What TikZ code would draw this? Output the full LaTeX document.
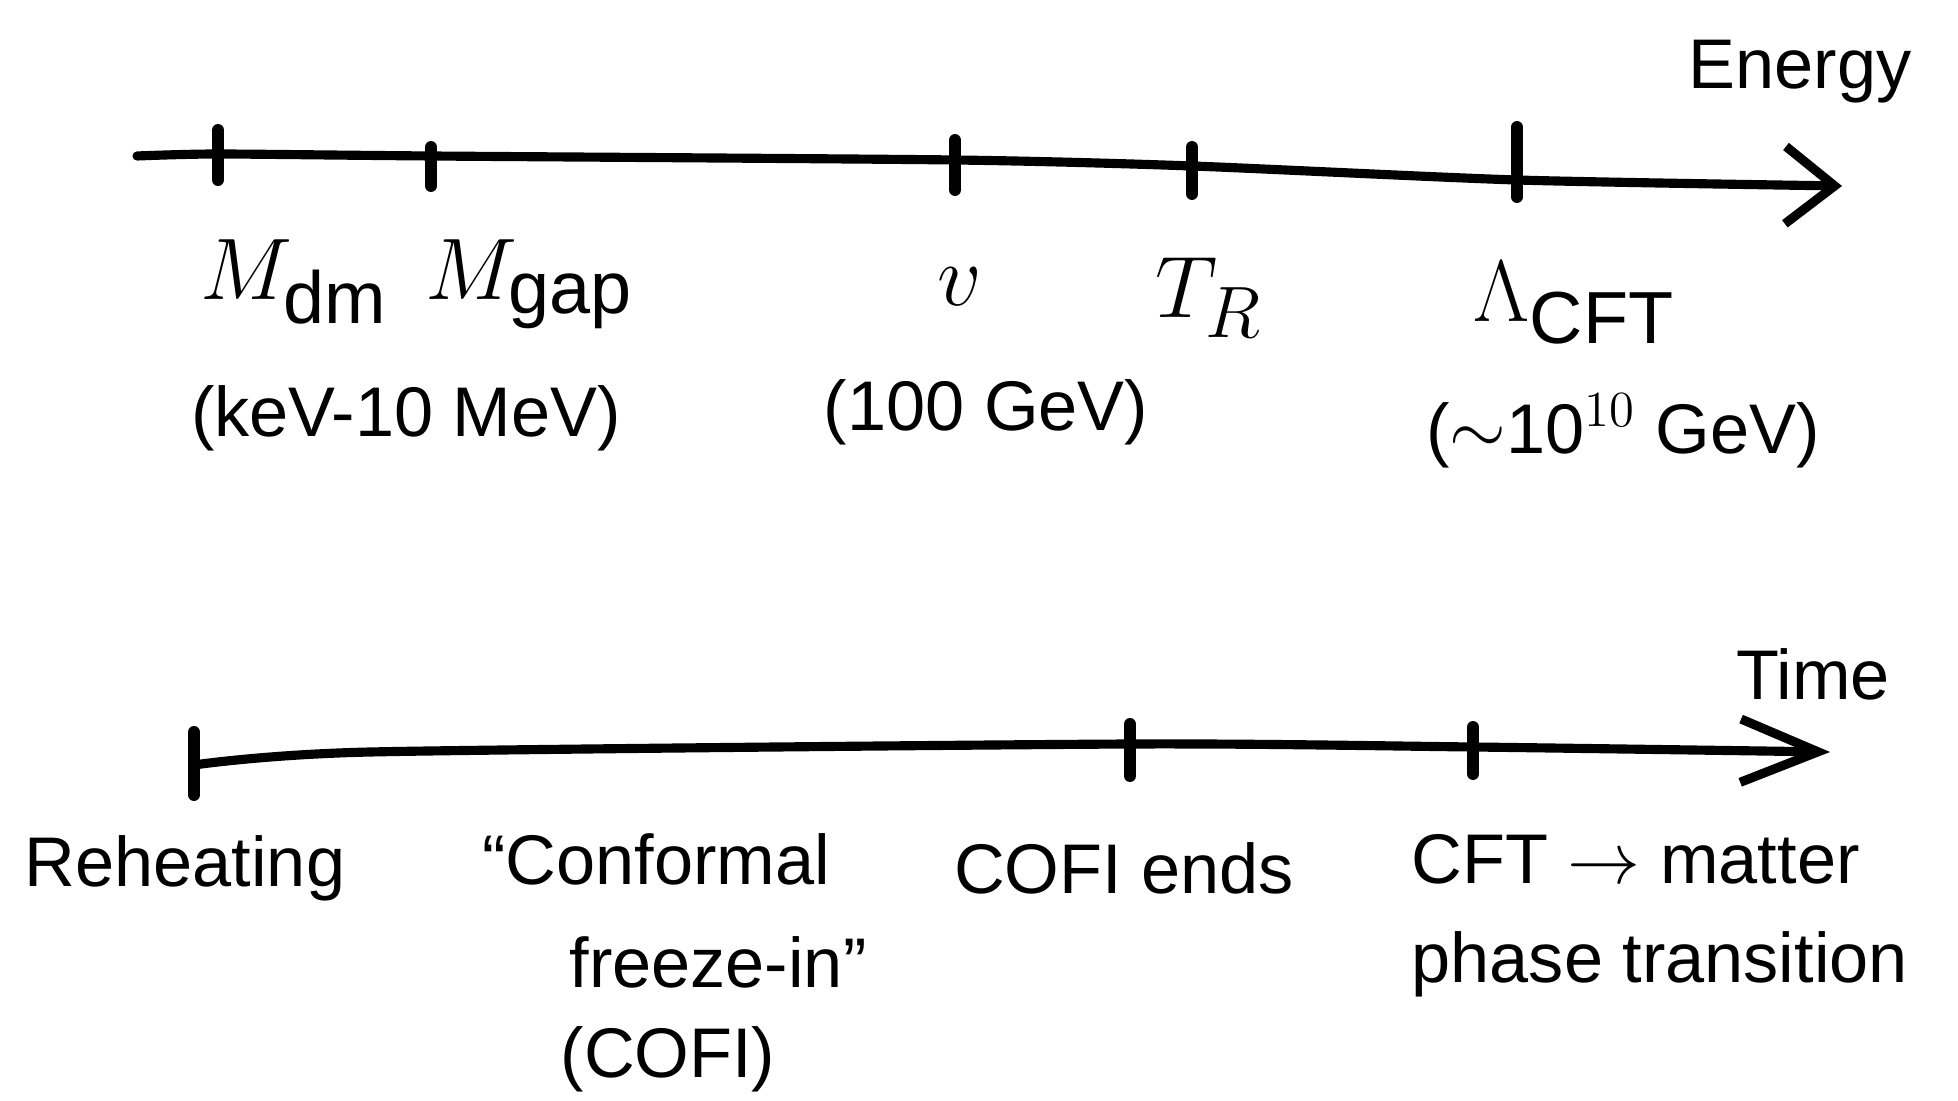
\documentclass[tikz,border=0pt]{standalone}
\usepackage{fontspec}
\setmainfont{Liberation Sans}
\usetikzlibrary{positioning,arrows.meta,calc}
\tikzset{
  axis/.style={line width=2.6pt, line cap=round, line join=round, draw=black},
  energyhead/.style={-{Straight Barb[length=14pt,width=22pt,line width=2.6pt]}},
  timehead/.style={-{Straight Barb[length=22pt,width=18pt,line width=2.6pt]}},
  tick/.style={line width=3.4pt, line cap=round, draw=black},
  sym/.style={font=\fontsize{30}{36}\selectfont, inner sep=0pt},
  txt/.style={font=\fontsize{20}{24}\selectfont, inner sep=0pt, align=center},
  head/.style={font=\fontsize{20}{24}\selectfont, inner sep=0pt}
}

\begin{document}
\begin{tikzpicture}
    \useasboundingbox (0,0) rectangle (19.58,-11.01);

    % energy axis
    \coordinate (e0) at (1.37,-1.56);
    \coordinate (mdm) at (2.18,-1.54);
    \coordinate (mgap) at (4.31,-1.56);
    \coordinate (vev) at (9.55,-1.60);
    \coordinate (tr) at (11.92,-1.66);
    \coordinate (lcft) at (15.17,-1.80);
    \coordinate (e1) at (18.42,-1.86);

    \draw[axis,energyhead] plot[smooth,tension=0.4] coordinates {(e0) (mdm) (mgap) (vev) (tr) (lcft) (e1)};
    \foreach \p/\u/\d in {mdm/0.24/0.26, mgap/0.09/0.30, vev/0.20/0.30, tr/0.19/0.28, lcft/0.53/0.17}
      \draw[tick] ($(\p)+(0,\u)$) -- ($(\p)+(0,-\d)$);

    \node[head] (energy) at (18.00,-0.72) {Energy};

    \node[sym, anchor=base west] (mdmlab) at (2.00,-3.00) {$M_{\mathrm{dm}}$};
    \node[sym, anchor=base west] (mgaplab) at (4.25,-3.00) {$M_{\mathrm{gap}}$};
    \node[sym, anchor=base] (vevlab) at (9.60,-3.06) {$v$};
    \node[sym, anchor=base west] (trlab) at (11.55,-3.18) {$T_R$};
    \node[sym, anchor=base west] (lcftlab) at (14.73,-3.22) {$\Lambda_{\mathrm{CFT}}$};

    \node[txt] (kev) at (4.06,-4.18) {(keV-10 MeV)};
    \node[txt] (gev) at (9.86,-4.12) {(100 GeV)};
    \node[txt] (tengev) at (16.23,-4.31) {($\sim$10$^{10}$ GeV)};

    % time axis
    \coordinate (t0) at (1.94,-7.65);
    \coordinate (t1) at (3.70,-7.52);
    \coordinate (cofi) at (11.30,-7.44);
    \coordinate (pt) at (14.73,-7.47);
    \coordinate (t2) at (18.30,-7.52);

    \draw[axis,timehead] plot[smooth,tension=0.4] coordinates {(t0) (t1) (cofi) (pt) (t2)};
    \foreach \p/\u/\d in {t0/0.33/0.30, cofi/0.20/0.32, pt/0.20/0.27}
      \draw[tick] ($(\p)+(0,\u)$) -- ($(\p)+(0,-\d)$);

    \node[head] (time) at (18.13,-6.74) {Time};

    \node[txt] (reheat) at (1.85,-8.68) {Reheating};
    \node[txt] (conf) at (6.56,-8.59) {``Conformal};
    \node[txt] (freeze) at (7.18,-9.62) {freeze-in''};
    \node[txt] (cofilab) at (6.68,-10.59) {(COFI)};
    \node[txt] (ends) at (11.24,-8.68) {COFI ends};
    \node[txt, anchor=west] (cftm) at (14.11,-8.59) {CFT $\to$ matter};
    \node[txt, anchor=west] (phase) at (14.11,-9.64) {phase transition};
\end{tikzpicture}
\end{document}
